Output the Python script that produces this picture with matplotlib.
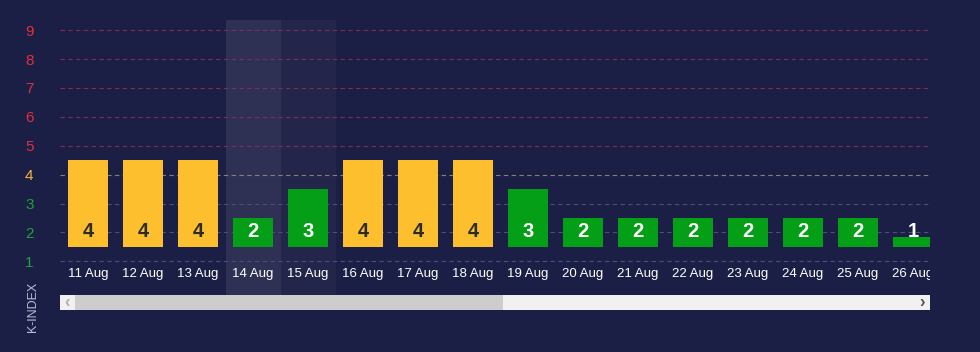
import numpy as np
import matplotlib.pyplot as plt
from matplotlib.patches import Rectangle

plt.rcParams['font.family'] = ['Liberation Sans', 'DejaVu Sans']

dates = ['11 Aug', '12 Aug', '13 Aug', '14 Aug', '15 Aug', '16 Aug', '17 Aug', '18 Aug',
         '19 Aug', '20 Aug', '21 Aug', '22 Aug', '23 Aug', '24 Aug', '25 Aug', '26 Aug']
kp = [4, 4, 4, 2, 3, 4, 4, 4, 3, 2, 2, 2, 2, 2, 2, 1]
levels = [1, 2, 3, 4, 5, 6, 7, 8, 9]

bg = '#1c1f45'
yellow = '#fdbf2d'
green = '#049f17'
red = '#e0303f'
level_col = {1: '#1ba334', 2: '#1ba334', 3: '#1ba334', 4: '#f4b73c'}
grid_col = {1: '#4b4d7a', 2: '#4b4d7a', 3: '#4b4d7a', 4: '#8a7e72'}

fig = plt.figure(figsize=(9.8, 3.52), dpi=100, facecolor=bg)
W, H = 980, 352
ax = fig.add_axes([60 / W, (H - 296) / H, 870 / W, 276 / H])
ax.set_facecolor(bg)
ax.set_xlim(-0.51, 15.31)
ax.set_ylim(-0.2, 9.35)
for s in ax.spines.values():
    s.set_visible(False)

# hover / current day shading
ax.axvspan(2.5, 3.5, color='#2e3154', zorder=0, lw=0)
ax.axvspan(3.5, 4.5, color='#23264a', zorder=0, lw=0)

for lv in levels:
    ax.axhline(lv, color=grid_col.get(lv, '#7a3054'), lw=0.8, ls=(0, (4, 3)), zorder=1)

x = np.arange(len(dates))
base = 1.5
heights = [max(k - 1, 0.33) for k in kp]
colors = [yellow if k >= 4 else green for k in kp]
ax.bar(x, heights, bottom=base, width=0.727, color=colors, zorder=2, clip_on=True)

for i, k in enumerate(kp):
    ax.annotate(str(k), (i, base), xytext=(0, 4), textcoords='offset points',
                ha='center', va='bottom', fontsize=14.5, fontweight='bold',
                color='#2b2b2b' if k >= 4 else 'white', zorder=3)

ax.set_yticks(levels)
ax.set_yticklabels([str(v) for v in levels], fontsize=11)
for lab, lv in zip(ax.get_yticklabels(), levels):
    lab.set_color(level_col.get(lv, red))
ax.tick_params(axis='y', length=0, pad=19)

ax.set_xticks(x)
ax.set_xticklabels(dates, fontsize=9.5, color='white')
ax.tick_params(axis='x', length=0, pad=-20)
for lab in ax.get_xticklabels():
    lab.set_clip_path(ax.patch)

fig.text(33 / W, (H - 307) / H, 'K-INDEX', rotation=90, ha='center', va='center',
         fontsize=9, color='#b9bddb')

# scrollbar
sy, sh = (H - 310) / H, 15 / H
fig.patches.append(Rectangle((60 / W, sy), 870 / W, sh, transform=fig.transFigure,
                             facecolor='#f1f1f1', edgecolor='none'))
fig.patches.append(Rectangle((75 / W, sy), 428 / W, sh, transform=fig.transFigure,
                             facecolor='#cdcdcd', edgecolor='none'))
fig.text(67 / W, sy + sh / 2, '‹', ha='center', va='center', fontsize=12,
         color='#b0b0b0', fontweight='bold')
fig.text(922 / W, sy + sh / 2, '›', ha='center', va='center', fontsize=12,
         color='#555555', fontweight='bold')

fig.savefig('out.png', dpi=100, facecolor=bg)
